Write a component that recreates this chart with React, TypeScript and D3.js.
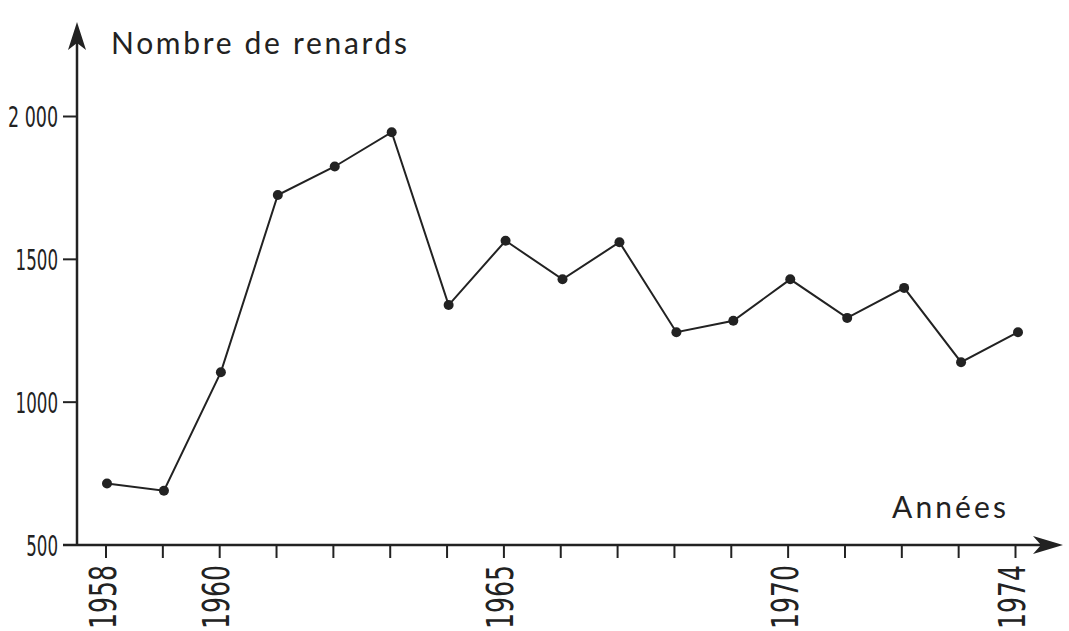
import React from "react";
import * as d3 from "d3";

const years = [1958, 1959, 1960, 1961, 1962, 1963, 1964, 1965, 1966, 1967, 1968, 1969, 1970, 1971, 1972, 1973, 1974];
const foxes = [715, 690, 1105, 1725, 1825, 1945, 1340, 1565, 1430, 1560, 1245, 1285, 1430, 1295, 1400, 1140, 1245];
const yTicks = [500, 1000, 1500, 2000];
const yTickLabels = ["500", "1000", "1500", "2 000"];
const yearLabels = [1958, 1960, 1965, 1970, 1974];
const yTitle = "Nombre de renards";
const xTitle = "Années";

const W = 1069;
const H = 631;
const INK = "#222";

export default function App() {
  const x = d3.scaleLinear().domain([1958, 1974]).range([107, 1018]);
  const y = d3.scaleLinear().domain([500, 2000]).range([545, 116.5]);
  const line = d3
    .line<number>()
    .x((_, i) => x(years[i]))
    .y((d) => y(d));

  const axisY = y(500);
  const axisX = 77;
  const tickX = d3.scaleLinear().domain([1958, 1974]).range([106, 1015.5]);

  return (
    <svg
      width={W}
      height={H}
      style={{ position: "absolute", left: 0, top: 0, background: "#fff" }}
    >
      {/* axes */}
      <line x1={63} y1={axisY} x2={1045} y2={axisY} stroke={INK} strokeWidth={2.5} />
      <line x1={axisX} y1={axisY} x2={axisX} y2={40} stroke={INK} strokeWidth={2.5} />
      <path
        d={`M${axisX},22 L${axisX + 9},50 L${axisX},43 L${axisX - 9},50 Z`}
        fill={INK}
      />
      <path
        d={`M1063,${axisY} L1033,${axisY - 9} L1041,${axisY} L1033,${axisY + 9} Z`}
        fill={INK}
      />

      {/* y ticks */}
      {yTicks.map((t, i) => (
        <g key={t}>
          <line x1={63} x2={axisX} y1={y(t)} y2={y(t)} stroke={INK} strokeWidth={2} />
          <text
            x={58}
            y={y(t) + 10.5}
            textAnchor="end"
            fontFamily="'Liberation Sans Narrow', 'DejaVu Sans Condensed', 'Liberation Sans', sans-serif"
            fontSize={29}
            fill={INK}
            textLength={yTickLabels[i] === "2 000" ? 50 : yTickLabels[i].length * 10.6}
            lengthAdjust="spacingAndGlyphs"
          >
            {yTickLabels[i]}
          </text>
        </g>
      ))}

      {/* x ticks */}
      {years.map((yr) => (
        <line
          key={yr}
          x1={tickX(yr)}
          x2={tickX(yr)}
          y1={axisY}
          y2={axisY + 13}
          stroke={INK}
          strokeWidth={2}
        />
      ))}
      {yearLabels.map((yr) => (
        <text
          key={yr}
          transform={`translate(${tickX(yr) + 9.5},565) rotate(-90)`}
          textAnchor="end"
          fontFamily="'Liberation Sans Narrow', 'DejaVu Sans Condensed', 'Liberation Sans', sans-serif"
          fontSize={37}
          fill={INK}
          textLength={64}
          lengthAdjust="spacingAndGlyphs"
        >
          {yr}
        </text>
      ))}

      {/* data */}
      <path d={line(foxes) || ""} fill="none" stroke={INK} strokeWidth={2} />
      {foxes.map((v, i) => (
        <circle key={years[i]} cx={x(years[i])} cy={y(v)} r={5} fill={INK} />
      ))}

      {/* titles */}
      <text
        x={111}
        y={54}
        fontFamily="Lato, 'Open Sans', sans-serif"
        fontSize={30}
        fill={INK}
        textLength={296}
        lengthAdjust="spacing"
      >
        {yTitle}
      </text>
      <text
        x={892}
        y={518}
        fontFamily="Lato, 'Open Sans', sans-serif"
        fontSize={30}
        fill={INK}
        textLength={114}
        lengthAdjust="spacing"
      >
        {xTitle}
      </text>
    </svg>
  );
}
